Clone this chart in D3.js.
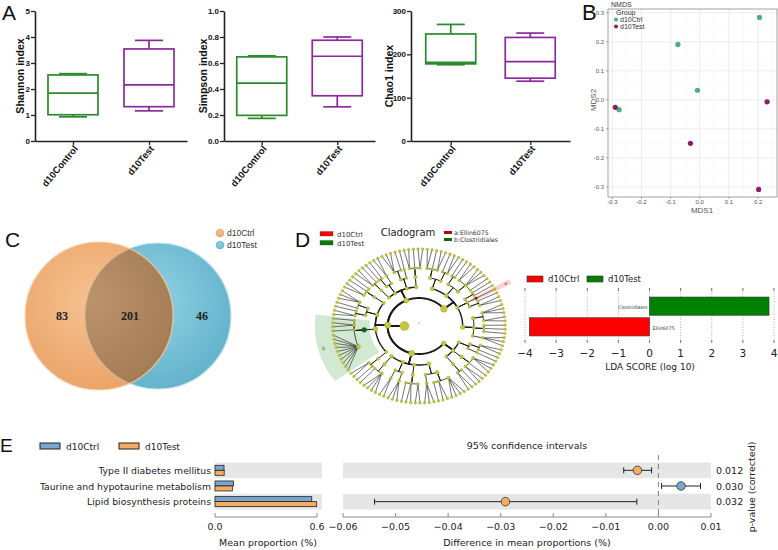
<!DOCTYPE html>
<html>
<head>
<meta charset="utf-8">
<script src="https://cdnjs.cloudflare.com/ajax/libs/d3/7.8.5/d3.min.js"></script>
<style>
  body { margin: 0; background: #fff; }
  svg { display: block; }
</style>
</head>
<body>
<div id="figure"></div>
<script>
// ---------- data ----------

// A: alpha diversity, box stats as [min, q1, median, q3, max]
const alphaGroups = ["d10Control", "d10Test"];
const shannonStats = [[0.93, 1.01, 1.84, 2.54, 2.59], [1.16, 1.32, 2.16, 3.54, 3.87]];
const simpsonStats = [[0.174, 0.197, 0.445, 0.647, 0.655], [0.263, 0.348, 0.652, 0.775, 0.800]];
const chao1Stats = [[176, 178, 181.5, 247, 269], [138, 145, 183, 239, 249]];
const shannonTicks = [0, 1, 2, 3, 4, 5];
const simpsonTicks = [0, 0.2, 0.4, 0.6, 0.8, 1.0];
const chao1Ticks = [0, 100, 200, 300];

// B: NMDS scores
const nmdsGroup = ["d10Ctrl", "d10Ctrl", "d10Ctrl", "d10Ctrl", "d10Test", "d10Test", "d10Test", "d10Test"];
const nmdsMds1 = [0.205, -0.075, -0.008, -0.277, -0.290, 0.231, -0.032, 0.202];
const nmdsMds2 = [0.284, 0.191, 0.033, -0.034, -0.026, -0.007, -0.150, -0.309];
const nmdsTicksX = [-0.3, -0.2, -0.1, 0, 0.1, 0.2];
const nmdsTicksY = [-0.3, -0.2, -0.1, 0, 0.1, 0.2, 0.3];

// C: Venn
const vennSets = ["d10Ctrl", "d10Test"];
const vennCounts = [83, 201, 46]; // only ctrl, shared, only test

// D: cladogram, phylum > class > order > family (number = genera in family)
const cladeTree = [
  [[[2, 1, 2], [1, 2]], [[1, 1], [2, 3, 1]], [[1, 1], [1], [1, 2]], [[3, 2], [1, 1, 1], [3]]],
  [[[2, 1], [1]], [[3, 1, 2]], [[1, 2]]],
  [[[4, 2, 1], [3]], [[2, 2, 1]], [[3], [2]], [[4, 1]]],
  [[[1, 2]], [[10, 1, 2, 1]], [[2, 1], [1, 3]], [[2, 1, 1]]],
  [[[2, 1]], [[1, 1], [2]], [[3, 1], [1]], [[2, 1, 2]]]
];
const cladeMarked = [
  { path: [0, 2, 1, 0], letter: "a", name: "Ellin6075", group: "d10Ctrl" },
  { path: [3, 1, 0], letter: "b", name: "Clostridiales", group: "d10Test" }
];

// D: LDA effect size
const ldaTaxa = ["Clostridiales", "Ellin6075"];
const ldaScore = [3.84, -3.86];
const ldaGroup = ["d10Test", "d10Ctrl"];
const ldaTicks = [-4, -3, -2, -1, 0, 1, 2, 3, 4];

// E: STAMP extended error bar
const pathways = ["Type II diabetes mellitus", "Taurine and hypotaurine metabolism", "Lipid biosynthesis proteins"];
const ctrlMean = [0.053, 0.108, 0.569];
const testMean = [0.054, 0.102, 0.598];
const diffMean = [-0.0040, 0.0043, -0.0291];
const diffLow = [-0.0066, 0.0006, -0.0540];
const diffHigh = [-0.0013, 0.0080, -0.0041];
const pValues = ["0.012", "0.030", "0.032"];
const propTicks = [0, 0.6];
const diffTicks = [-0.06, -0.05, -0.04, -0.03, -0.02, -0.01, 0, 0.01];

// ---------- setup ----------
const fontA = "'Liberation Sans', Arial, sans-serif";
const fontM = "'DejaVu Sans', sans-serif";
const svg = d3.select("#figure").append("svg").attr("width", 778).attr("height", 550);

function panelLabel(t, x, y, size) {
    svg.append("text").attr("x", x).attr("y", y).attr("font-family", fontA)
        .attr("font-size", size).attr("fill", "#111").text(t);
}

// ---------- A: box plots ----------
const boxColors = ["#2b8a2b", "#8a2a9c"];

function boxPanel(stats, domain, ticks, fmt, title, x0, x1, titleDx) {
    let g = svg.append("g");
    let x = d3.scalePoint().domain(alphaGroups).range([x0, x1]).padding(0.5);
    let y = d3.scaleLinear().domain(domain).range([141, 11]);

    let ya = g.append("g").attr("transform", `translate(${x0},0)`)
        .call(d3.axisLeft(y).tickValues(ticks).tickFormat(fmt).tickSize(4).tickSizeOuter(0));
    let xa = g.append("g").attr("transform", `translate(0,${y(domain[0])})`)
        .call(d3.axisBottom(x).tickSize(4).tickSizeOuter(0));

    [ya, xa].forEach(a => {
        a.select(".domain").attr("stroke-width", 1.6).attr("stroke", "#222");
        a.selectAll(".tick line").attr("stroke-width", 1.3).attr("stroke", "#222");
        a.selectAll(".tick text").attr("font-family", fontA).attr("font-weight", "bold")
            .attr("fill", "#111");
    });
    ya.selectAll(".tick text").attr("font-size", 8).attr("x", -5);
    xa.selectAll(".tick text").attr("font-size", 9.5).attr("text-anchor", "end")
        .attr("y", 0).attr("dy", 0).attr("transform", "translate(5,8) rotate(-50)");

    g.append("text")
        .attr("transform", `translate(${x0 - titleDx},76) rotate(-90)`)
        .attr("text-anchor", "middle").attr("font-family", fontA).attr("font-weight", "bold")
        .attr("font-size", 10.5).attr("fill", "#111").text(title);

    stats.forEach((s, i) => {
        let cx = x(alphaGroups[i]);
        let b = g.append("g").attr("stroke", boxColors[i]).attr("stroke-width", 1.7).attr("fill", "none");
        b.append("line").attr("x1", cx).attr("x2", cx).attr("y1", y(s[0])).attr("y2", y(s[1]));
        b.append("line").attr("x1", cx).attr("x2", cx).attr("y1", y(s[3])).attr("y2", y(s[4]));
        b.append("line").attr("x1", cx - 14).attr("x2", cx + 14).attr("y1", y(s[0])).attr("y2", y(s[0]));
        b.append("line").attr("x1", cx - 14).attr("x2", cx + 14).attr("y1", y(s[4])).attr("y2", y(s[4]));
        b.append("rect").attr("x", cx - 25).attr("width", 50)
            .attr("y", y(s[3])).attr("height", y(s[1]) - y(s[3]));
        b.append("line").attr("x1", cx - 25).attr("x2", cx + 25).attr("y1", y(s[2])).attr("y2", y(s[2]));
    });
}

boxPanel(shannonStats, [0, 5], shannonTicks, d3.format("d"), "Shannon index", 35, 187, 11);
boxPanel(simpsonStats, [0, 1], simpsonTicks, d3.format(".1f"), "Simpson index", 224, 375, 17);
boxPanel(chao1Stats, [0, 300], chao1Ticks, d3.format("d"), "Chao1 index", 411, 570, 18);
panelLabel("A", 2, 20, 21);

// ---------- B: NMDS ----------
const nmdsColor = { d10Ctrl: "#4cb07a", d10Test: "#8c1c6c" };
const bx = d3.scaleLinear().domain([-0.315, 0.265]).range([608, 777]);
const by = d3.scaleLinear().domain([-0.335, 0.313]).range([197, 9]);
const gB = svg.append("g").attr("font-family", fontA);

gB.selectAll(".minx").data(nmdsTicksX.map(d => d + 0.05).filter(d => d < 0.265))
    .join("line").attr("x1", d => bx(d)).attr("x2", d => bx(d)).attr("y1", 9).attr("y2", 197)
    .attr("stroke", "#f3f3f3").attr("stroke-width", 0.5);
gB.selectAll(".miny").data(nmdsTicksY.slice(0, -1).map(d => d + 0.05))
    .join("line").attr("y1", d => by(d)).attr("y2", d => by(d)).attr("x1", 608).attr("x2", 777)
    .attr("stroke", "#f3f3f3").attr("stroke-width", 0.5);
gB.selectAll(".gx").data(nmdsTicksX).join("line")
    .attr("x1", d => bx(d)).attr("x2", d => bx(d)).attr("y1", 9).attr("y2", 197)
    .attr("stroke", "#e8e8e8").attr("stroke-width", 0.8);
gB.selectAll(".gy").data(nmdsTicksY).join("line")
    .attr("y1", d => by(d)).attr("y2", d => by(d)).attr("x1", 608).attr("x2", 777)
    .attr("stroke", "#e8e8e8").attr("stroke-width", 0.8);
gB.append("rect").attr("x", 608).attr("y", 9).attr("width", 169).attr("height", 188)
    .attr("fill", "none").attr("stroke", "#8a8a8a").attr("stroke-width", 0.8);

gB.selectAll(".tx").data(nmdsTicksX).join("text")
    .attr("x", d => bx(d)).attr("y", 204).attr("text-anchor", "middle")
    .attr("font-size", 6).attr("fill", "#555").text(d => d.toFixed(1));
gB.selectAll(".ty").data(nmdsTicksY).join("text")
    .attr("x", 604).attr("y", d => by(d) + 2).attr("text-anchor", "end")
    .attr("font-size", 6).attr("fill", "#555").text(d => d.toFixed(1));
gB.selectAll(".tkx").data(nmdsTicksX).join("line")
    .attr("x1", d => bx(d)).attr("x2", d => bx(d)).attr("y1", 197).attr("y2", 199)
    .attr("stroke", "#777").attr("stroke-width", 0.6);
gB.selectAll(".tky").data(nmdsTicksY).join("line")
    .attr("y1", d => by(d)).attr("y2", d => by(d)).attr("x1", 606).attr("x2", 608)
    .attr("stroke", "#777").attr("stroke-width", 0.6);

gB.append("text").attr("x", 702).attr("y", 213).attr("text-anchor", "middle")
    .attr("font-size", 8).attr("fill", "#555").text("MDS1");
gB.append("text").attr("transform", "translate(596,100) rotate(-90)").attr("text-anchor", "middle")
    .attr("font-size", 8).attr("fill", "#555").text("MDS2");
gB.append("text").attr("x", 611).attr("y", 7).attr("font-size", 7).attr("fill", "#333").text("NMDS");

gB.selectAll(".pt").data(nmdsGroup).join("circle")
    .attr("cx", (d, i) => bx(nmdsMds1[i])).attr("cy", (d, i) => by(nmdsMds2[i]))
    .attr("r", 2.6).attr("fill", d => nmdsColor[d]);

gB.append("text").attr("x", 616).attr("y", 15).attr("font-size", 7).attr("fill", "#333").text("Group");
["d10Ctrl", "d10Test"].forEach((k, i) => {
    gB.append("circle").attr("cx", 616).attr("cy", 19.5 + i * 7).attr("r", 2).attr("fill", nmdsColor[k]);
    gB.append("text").attr("x", 620).attr("y", 22 + i * 7).attr("font-size", 7).attr("fill", "#333").text(k);
});
panelLabel("B", 582, 20, 22);

// ---------- C: Venn ----------
const defs = svg.append("defs");
function radial(id, c0, c1) {
    let gr = defs.append("radialGradient").attr("id", id).attr("cx", "45%").attr("cy", "40%").attr("r", "65%");
    gr.append("stop").attr("offset", "0%").attr("stop-color", c0);
    gr.append("stop").attr("offset", "100%").attr("stop-color", c1);
}
radial("gOrange", "#f6c291", "#eaa266");
radial("gBlue", "#93d2e3", "#5fb1ca");
radial("gBoth", "#bb946c", "#a27b55");

const vennCircles = [{ cx: 99, cy: 316, r: 74 }, { cx: 158, cy: 316, r: 73 }];
const gC = svg.append("g");
defs.append("clipPath").attr("id", "clipBlue").append("circle")
    .attr("cx", vennCircles[1].cx).attr("cy", vennCircles[1].cy).attr("r", vennCircles[1].r);
defs.append("clipPath").attr("id", "clipOrange").append("circle")
    .attr("cx", vennCircles[0].cx).attr("cy", vennCircles[0].cy).attr("r", vennCircles[0].r);
gC.append("circle").attr("cx", vennCircles[1].cx).attr("cy", vennCircles[1].cy).attr("r", vennCircles[1].r)
    .attr("fill", "url(#gBlue)").attr("stroke", "#bfe3ee").attr("stroke-width", 1.2);
gC.append("circle").attr("cx", vennCircles[0].cx).attr("cy", vennCircles[0].cy).attr("r", vennCircles[0].r)
    .attr("fill", "url(#gOrange)").attr("stroke", "#f7d3b0").attr("stroke-width", 1.2);
gC.append("circle").attr("cx", vennCircles[0].cx).attr("cy", vennCircles[0].cy).attr("r", vennCircles[0].r)
    .attr("clip-path", "url(#clipBlue)").attr("fill", "url(#gBoth)").attr("stroke", "#d9c09a").attr("stroke-width", 1.2);
gC.append("circle").attr("cx", vennCircles[1].cx).attr("cy", vennCircles[1].cy).attr("r", vennCircles[1].r)
    .attr("fill", "none").attr("stroke", "#cdb592").attr("stroke-width", 1)
    .attr("clip-path", "url(#clipOrange)");

const vennLabelX = [62, 130, 202];
gC.selectAll(".vn").data(vennCounts).join("text")
    .attr("x", (d, i) => vennLabelX[i]).attr("y", 320).attr("text-anchor", "middle")
    .attr("font-family", "'Liberation Serif', 'Times New Roman', serif").attr("font-weight", "bold")
    .attr("font-size", 12).attr("fill", "#222").text(d => d);

const vennFill = ["url(#gOrange)", "url(#gBlue)"];
vennSets.forEach((s, i) => {
    gC.append("circle").attr("cx", 220).attr("cy", 233 + i * 12).attr("r", 4.3).attr("fill", vennFill[i]);
    gC.append("text").attr("x", 227).attr("y", 236 + i * 12).attr("font-family", fontA)
        .attr("font-size", 8.5).attr("fill", "#333").text(s);
});
panelLabel("C", 5, 247, 21);

// ---------- D: cladogram ----------
const groupColor = { d10Ctrl: "#ff0000", d10Test: "#008000" };
const groupDark = { d10Ctrl: "#c00000", d10Test: "#0a6a0a" };
const deg = Math.PI / 180;
const cladeCx = 419, cladeCy = 326, cladeSx = 1.12;
const levelR = [13, 28, 39, 49, 58, 77];
const linkW = [0, 1.9, 1.4, 1.0, 0.8, 0.6];
const proj = (a, r) => [cladeCx + cladeSx * r * Math.sin(a), cladeCy - r * Math.cos(a)];
function arcPts(a0, a1, r) {
    let n = Math.max(2, Math.ceil(Math.abs(a1 - a0) / (2 * deg)));
    return d3.range(n + 1).map(i => proj(a0 + (a1 - a0) * i / n, r));
}
function toNode(spec, path) {
    if (typeof spec === "number") return { path, children: d3.range(spec).map(i => ({ path: path.concat(i) })) };
    return { path, children: spec.map((s, i) => toNode(s, path.concat(i))) };
}
const clade = d3.hierarchy(toNode(cladeTree, []));
const cladeLeaves = clade.leaves();
const cladeStep = 360 / cladeLeaves.length * deg;
cladeLeaves.forEach((l, i) => l.a = 4 * deg + (i + 0.5) * cladeStep);
clade.eachAfter(n => { if (n.children) n.a = d3.mean(n.children, c => c.a); });
clade.a = 270 * deg;

const gD = svg.append("g");
// highlighted clades
cladeMarked.forEach(m => {
    let node = clade.descendants().find(n => n.data.path.join(",") === m.path.join(","));
    node.mark = m;
    let lv = node.leaves();
    let a0 = lv[0].a - cladeStep / 2, a1 = lv[lv.length - 1].a + cladeStep / 2;
    let r0 = levelR[node.depth] - 5, r1 = levelR[5] + 16;
    let pts = arcPts(a0, a1, r1).concat(arcPts(a1, a0, r0));
    gD.append("path").attr("d", d3.line()(pts) + "Z")
        .attr("fill", groupColor[m.group]).attr("fill-opacity", 0.18);
    let lp = proj((a0 + a1) / 2, r1 - 5);
    gD.append("text").attr("x", lp[0]).attr("y", lp[1] + 1.5).attr("text-anchor", "middle")
        .attr("font-family", fontM).attr("font-size", 4.5).attr("fill", "#444").text(m.letter);
});

const linkG = gD.append("g").attr("fill", "none").attr("stroke", "#1a1a1a").attr("stroke-linecap", "round");
clade.descendants().slice(1).forEach(c => {
    let p = c.parent, rp = levelR[p.depth], rc = levelR[c.depth];
    let pts;
    if (!c.children) {
        pts = [proj(p.a, rp), proj(c.a, rc)];
    } else {
        let d = c.a - p.a;
        d = ((d + 3 * Math.PI) % (2 * Math.PI)) - Math.PI;
        pts = [proj(p.a, rp)].concat(arcPts(p.a, p.a + d, rc));
    }
    linkG.append("path").attr("d", d3.line()(pts)).attr("stroke-width", linkW[c.depth]);
});

gD.selectAll(".node").data(clade.descendants()).join("circle")
    .attr("cx", d => proj(d.a, levelR[d.depth])[0])
    .attr("cy", d => proj(d.a, levelR[d.depth])[1])
    .attr("r", d => Math.min(4.6, 0.9 + 0.42 * Math.sqrt(d.leaves().length)))
    .attr("fill", d => d.mark ? groupDark[d.mark.group] : "#c3c83a")
    .attr("stroke", d => d.mark ? "#222" : "#868d1e").attr("stroke-width", 0.3);
gD.append("circle").attr("cx", cladeCx).attr("cy", cladeCy - 3).attr("r", 0.7).attr("fill", "#999");

// cladogram legends
gD.append("text").attr("x", 408).attr("y", 236).attr("text-anchor", "middle")
    .attr("font-family", fontM).attr("font-size", 10).attr("fill", "#222").text("Cladogram");
["d10Ctrl", "d10Test"].forEach((k, i) => {
    gD.append("rect").attr("x", 320).attr("y", 231.5 + i * 9).attr("width", 13).attr("height", 4.5)
        .attr("fill", groupColor[k]).attr("stroke", "#333").attr("stroke-width", 0.3);
    gD.append("text").attr("x", 337).attr("y", 236.5 + i * 9).attr("font-family", fontM)
        .attr("font-size", 7).attr("fill", "#333").text(k);
});
cladeMarked.forEach((m, i) => {
    gD.append("rect").attr("x", 444).attr("y", 231 + i * 7).attr("width", 8).attr("height", 3)
        .attr("fill", groupDark[m.group]);
    gD.append("text").attr("x", 454).attr("y", 234.5 + i * 7).attr("font-family", fontM)
        .attr("font-size", 6.2).attr("fill", "#333").text(m.letter + ":" + m.name);
});
panelLabel("D", 295, 247, 21);

// ---------- D: LDA bars ----------
const ldaX = d3.scaleLinear().domain([-4, 4]).range([525, 774]);
const ldaY = d3.scaleBand().domain(ldaTaxa).range([296, 337]).paddingInner(0.12).paddingOuter(0.05);
const gL = svg.append("g").attr("font-family", fontM);
gL.selectAll(".grid").data(ldaTicks).join("line")
    .attr("x1", d => ldaX(d)).attr("x2", d => ldaX(d)).attr("y1", 288).attr("y2", 343)
    .attr("stroke", "#777").attr("stroke-width", 0.6).attr("stroke-dasharray", "1,1.6");
gL.selectAll(".tt").data(ldaTicks).join("line")
    .attr("x1", d => ldaX(d)).attr("x2", d => ldaX(d)).attr("y1", 288).attr("y2", 291)
    .attr("stroke", "#333").attr("stroke-width", 0.6);
gL.selectAll(".tb").data(ldaTicks).join("line")
    .attr("x1", d => ldaX(d)).attr("x2", d => ldaX(d)).attr("y1", 340).attr("y2", 343)
    .attr("stroke", "#333").attr("stroke-width", 0.6);
gL.selectAll(".bar").data(ldaTaxa).join("rect")
    .attr("x", (d, i) => ldaX(Math.min(0, ldaScore[i])))
    .attr("width", (d, i) => Math.abs(ldaX(ldaScore[i]) - ldaX(0)))
    .attr("y", d => ldaY(d)).attr("height", ldaY.bandwidth())
    .attr("fill", (d, i) => groupColor[ldaGroup[i]]).attr("stroke", "#333").attr("stroke-width", 0.6);
gL.selectAll(".bl").data(ldaTaxa).join("text")
    .attr("x", (d, i) => ldaScore[i] > 0 ? ldaX(0) - 2 : ldaX(0) + 3)
    .attr("y", d => ldaY(d) + ldaY.bandwidth() / 2 + 3)
    .attr("text-anchor", (d, i) => ldaScore[i] > 0 ? "end" : "start")
    .attr("font-size", 4.8).attr("fill", "#333").text(d => d);
gL.selectAll(".tl").data(ldaTicks).join("text")
    .attr("x", d => ldaX(d)).attr("y", 357).attr("text-anchor", "middle")
    .attr("font-size", 10.5).attr("fill", "#222").text(d3.format("d"));
gL.append("text").attr("x", 650).attr("y", 370).attr("text-anchor", "middle")
    .attr("font-size", 9).attr("fill", "#222").text("LDA SCORE (log 10)");
["d10Ctrl", "d10Test"].forEach((k, i) => {
    gL.append("rect").attr("x", 527 + i * 60).attr("y", 276).attr("width", 16).attr("height", 6)
        .attr("fill", groupColor[k]).attr("stroke", "#333").attr("stroke-width", 0.6);
    gL.append("text").attr("x", 548 + i * 60).attr("y", 282).attr("font-size", 8.5)
        .attr("fill", "#222").text(k);
});

// ---------- E: extended error bar ----------
const eBlue = "#79a7cf", eOrange = "#f7ac63";
const propX = d3.scaleLinear().domain([0, 0.6]).range([215, 317]);
const diffX = d3.scaleLinear().domain([-0.06, 0.01]).range([343, 711]);
const rowY = d3.scaleBand().domain(pathways).range([462.5, 509.5]);
const gE = svg.append("g").attr("font-family", fontM);

pathways.forEach((p, i) => {
    if (i % 2 === 1) return;
    gE.append("rect").attr("x", 215).attr("width", 107).attr("y", rowY(p)).attr("height", rowY.bandwidth())
        .attr("fill", "#e6e6e6");
    gE.append("rect").attr("x", 343).attr("width", 368).attr("y", rowY(p)).attr("height", rowY.bandwidth())
        .attr("fill", "#e6e6e6");
});
gE.selectAll(".cb").data(pathways).join("rect")
    .attr("x", propX(0)).attr("width", (d, i) => propX(ctrlMean[i]) - propX(0))
    .attr("y", d => rowY(d) + 2.8).attr("height", 5)
    .attr("fill", eBlue).attr("stroke", "#222").attr("stroke-width", 0.8);
gE.selectAll(".tb").data(pathways).join("rect")
    .attr("x", propX(0)).attr("width", (d, i) => propX(testMean[i]) - propX(0))
    .attr("y", d => rowY(d) + 7.8).attr("height", 5)
    .attr("fill", eOrange).attr("stroke", "#222").attr("stroke-width", 0.8);
gE.selectAll(".lab").data(pathways).join("text")
    .attr("x", 211).attr("y", d => rowY(d) + rowY.bandwidth() / 2 + 3.5).attr("text-anchor", "end")
    .attr("font-size", 9.3).attr("fill", "#222").text(d => d);

// axes
function eAxis(scale, ticks, x0, x1) {
    gE.append("line").attr("x1", x0).attr("x2", x1).attr("y1", 517).attr("y2", 517)
        .attr("stroke", "#888").attr("stroke-width", 1);
    gE.selectAll(null).data(ticks).join("line")
        .attr("x1", d => scale(d)).attr("x2", d => scale(d)).attr("y1", 513).attr("y2", 517)
        .attr("stroke", "#888").attr("stroke-width", 1);
}
eAxis(propX, propTicks, 215, 317);
eAxis(diffX, diffTicks, 343, 711);
gE.selectAll(".ptl").data(propTicks).join("text")
    .attr("x", d => propX(d)).attr("y", 530).attr("text-anchor", "middle")
    .attr("font-size", 9.5).attr("fill", "#222").text(d3.format(".1f"));
gE.selectAll(".dtl").data(diffTicks).join("text")
    .attr("x", d => diffX(d)).attr("y", 530).attr("text-anchor", "middle")
    .attr("font-size", 9.5).attr("fill", "#222").text(d3.format(".2f"));
gE.append("text").attr("x", 268).attr("y", 546).attr("text-anchor", "middle")
    .attr("font-size", 9.5).attr("fill", "#222").text("Mean proportion (%)");
gE.append("text").attr("x", 527).attr("y", 546).attr("text-anchor", "middle")
    .attr("font-size", 9.5).attr("fill", "#222").text("Difference in mean proportions (%)");
gE.append("text").attr("x", 527).attr("y", 449).attr("text-anchor", "middle")
    .attr("font-size", 9.5).attr("fill", "#222").text("95% confidence intervals");

gE.append("line").attr("x1", diffX(0)).attr("x2", diffX(0)).attr("y1", 455).attr("y2", 515)
    .attr("stroke", "#777").attr("stroke-width", 0.9).attr("stroke-dasharray", "5,4");

pathways.forEach((p, i) => {
    let cy = rowY(p) + rowY.bandwidth() / 2;
    gE.append("line").attr("x1", diffX(diffLow[i])).attr("x2", diffX(diffHigh[i]))
        .attr("y1", cy).attr("y2", cy).attr("stroke", "#222").attr("stroke-width", 1);
    [diffLow[i], diffHigh[i]].forEach(v => {
        gE.append("line").attr("x1", diffX(v)).attr("x2", diffX(v)).attr("y1", cy - 3).attr("y2", cy + 3)
            .attr("stroke", "#222").attr("stroke-width", 1);
    });
    gE.append("circle").attr("cx", diffX(diffMean[i])).attr("cy", cy).attr("r", 4.3)
        .attr("fill", diffMean[i] < 0 ? eOrange : eBlue).attr("stroke", "#333").attr("stroke-width", 0.8);
    gE.append("text").attr("x", 716).attr("y", cy + 3.5).attr("font-size", 9.5).attr("fill", "#222").text(pValues[i]);
});
gE.append("text").attr("transform", "translate(755,487) rotate(-90)").attr("text-anchor", "middle")
    .attr("font-size", 9.5).attr("fill", "#222").text("p-value (corrected)");

[["d10Ctrl", eBlue], ["d10Test", eOrange]].forEach((k, i) => {
    gE.append("rect").attr("x", 40 + i * 79).attr("y", 443).attr("width", 20).attr("height", 6)
        .attr("fill", k[1]).attr("stroke", "#222").attr("stroke-width", 1);
    gE.append("text").attr("x", 66 + i * 79).attr("y", 450).attr("font-size", 9).attr("fill", "#222").text(k[0]);
});
panelLabel("E", 0, 452, 19);
</script>
</body>
</html>
